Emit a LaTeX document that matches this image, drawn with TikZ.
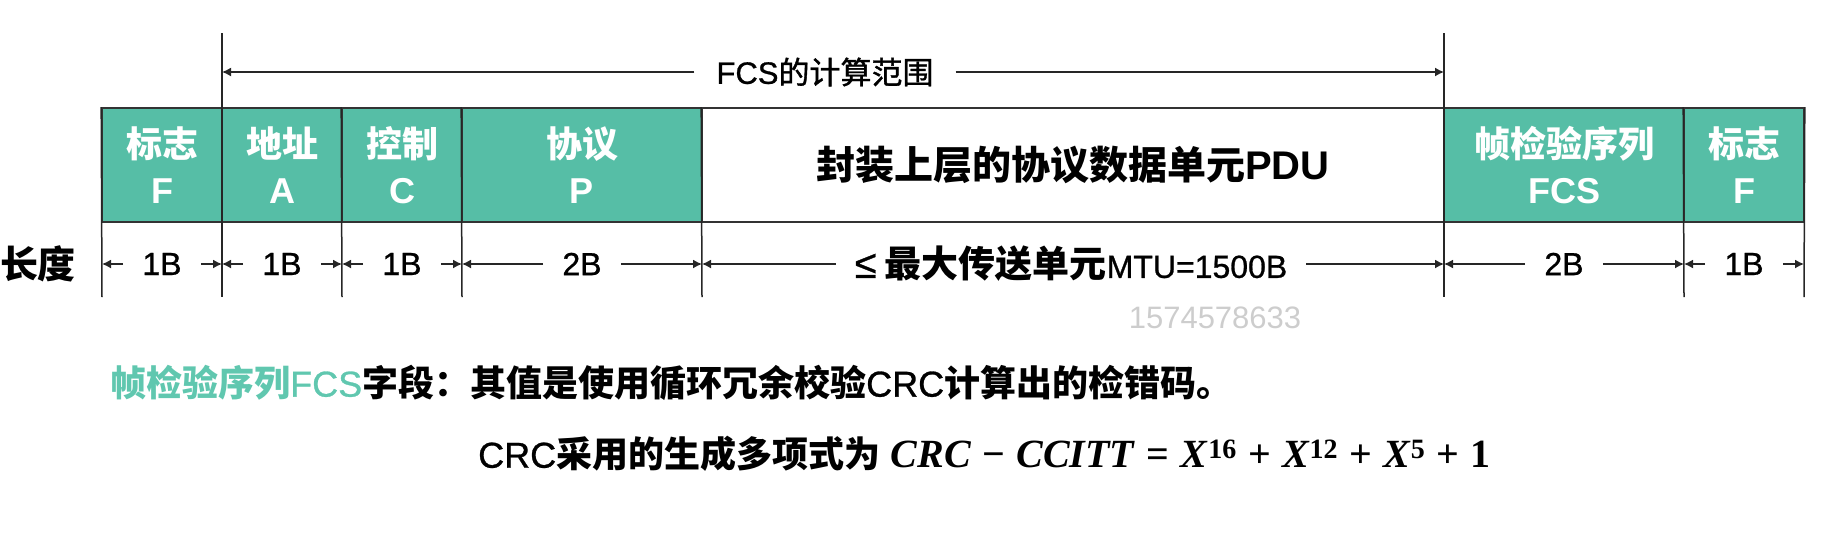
\documentclass[tikz,border=0pt]{standalone}
\usepackage{fontspec}
\setmainfont{Liberation Sans}
\newfontfamily\cjk{Noto Sans CJK SC}
\newfontfamily\cjkmed[FakeBold=1.2]{Noto Sans CJK SC}
\newfontfamily\latmed[FakeBold=0.8]{Liberation Sans}
\newfontfamily\mathser{Liberation Serif}
\usetikzlibrary{arrows.meta}
\definecolor{tealfill}{RGB}{86,190,166}
\definecolor{tealtext}{RGB}{96,199,175}
\definecolor{wmark}{RGB}{205,205,205}
\newcommand\fsz[1]{\fontsize{#1}{#1}\selectfont}
\newcommand\opsp[1]{\hspace{0.28em}#1\hspace{0.28em}}
\tikzset{
  field/.style={draw=black!80, line width=1.6pt, fill=tealfill, text=white,
    minimum height=114pt, inner sep=0pt, align=center,
    font=\fontsize{36}{46}\selectfont\bfseries},
  pdubox/.style={field, fill=white, text=black},
  vline/.style={line width=1.5pt, draw=black!85},
  dimarrow/.style={line width=1.5pt, draw=black!85, -{Latex[length=9pt,width=9pt]}},
  dimlabel/.style={inner sep=0pt, font=\fsz{32}\latmed},
}
\begin{document}
\begin{tikzpicture}[x=1pt,y=-1pt]
\useasboundingbox (0,0) rectangle (1848,544);
% fields
\node[field, minimum width=120pt] (f1) at (162,165) {{\cjk 标志}\\F};
\node[field, minimum width=120pt] (f2) at (282,165) {{\cjk 地址}\\A};
\node[field, minimum width=120pt] (f3) at (402,165) {{\cjk 控制}\\C};
\node[field, minimum width=240pt] (f4) at (582,165) {{\cjk 协议}\\P};
\node[pdubox, minimum width=742pt] (f5) at (1073,165) {{\cjk\fsz{39}\bfseries 封装上层的协议数据单元}{\fsz{40}\bfseries PDU}};
\node[field, minimum width=240pt] (f6) at (1564,165) {{\cjk 帧检验序列}\\FCS};
\node[field, minimum width=120pt] (f7) at (1744,165) {{\cjk 标志}\\F};
% bottom ends of vertical lines
\coordinate (L0) at (102,297);
\coordinate (L1) at (222,297);
\coordinate (L2) at (342,297);
\coordinate (L3) at (462,297);
\coordinate (L4) at (702,297);
\coordinate (L5) at (1444,297);
\coordinate (L6) at (1684,297);
\coordinate (L7) at (1804,297);
\coordinate (T1) at (222,33);
\coordinate (T5) at (1444,33);
\draw[vline] (f1.north west) -- (L0);
\draw[vline] (T1) -- (L1);
\draw[vline] (f3.north west) -- (L2);
\draw[vline] (f4.north west) -- (L3);
\draw[vline] (f5.north west) -- (L4);
\draw[vline] (T5) -- (L5);
\draw[vline] (f7.north west) -- (L6);
\draw[vline] (f7.north east) -- (L7);
% FCS range
\node[inner sep=0pt, font=\fsz{31}] (fcs) at (825,72) {{\latmed FCS}{\cjkmed 的计算范围}};
\coordinate (A1) at (222,72);
\coordinate (A5) at (1444,72);
\draw[dimarrow] ([xshift=-22pt]fcs.west) -- (A1);
\draw[dimarrow] ([xshift=22pt]fcs.east) -- (A5);
% length row
\node[inner sep=0pt, font=\fsz{38}\bfseries\cjk] (len) at (38,264) {长度};
\coordinate (D0) at (102,264);
\coordinate (D1) at (222,264);
\coordinate (D2) at (342,264);
\coordinate (D3) at (462,264);
\coordinate (D4) at (702,264);
\coordinate (D5) at (1444,264);
\coordinate (D6) at (1684,264);
\coordinate (D7) at (1804,264);
\node[dimlabel] (d1) at (162,264) {1B};
\node[dimlabel] (d2) at (282,264) {1B};
\node[dimlabel] (d3) at (402,264) {1B};
\node[dimlabel] (d4) at (582,264) {2B};
\node[dimlabel] (d5) at (1071,264) {{\fsz{40}≤}\hspace{0.25em}{\cjk\fsz{37}\bfseries 最大传送单元}MTU=1500B};
\node[dimlabel] (d6) at (1564,264) {2B};
\node[dimlabel] (d7) at (1744,264) {1B};
\foreach \i/\a/\b in {1/D0/D1,2/D1/D2,3/D2/D3,4/D3/D4,5/D4/D5,6/D5/D6,7/D6/D7}{
  \draw[dimarrow] ([xshift=-19pt]d\i.west) -- (\a);
  \draw[dimarrow] ([xshift=19pt]d\i.east) -- (\b);
}
% watermark
\node[inner sep=0pt, font=\fsz{31}, text=wmark] (wm) at (1215,318) {1574578633};
% explanation
\node[inner sep=0pt, anchor=west, font=\fsz{36}] (t1) at (110,383)
  {\textcolor{tealtext}{{\cjk\bfseries 帧检验序列}{\latmed FCS}}{\cjk\bfseries 字段：其值是使用循环冗余校验}{\latmed CRC}{\cjk\bfseries 计算出的检错码。}};
\node[inner sep=0pt, anchor=west, font=\fsz{36}] (t2) at (478,454)
  {{\latmed CRC}{\cjk\bfseries 采用的生成多项式为}\hspace{0.3em}{\mathser\bfseries\fsz{40}\textit{CRC}\opsp{−}\textit{CCITT}\opsp{=}\textit{X}\textsuperscript{16}\opsp{+}\textit{X}\textsuperscript{12}\opsp{+}\textit{X}\textsuperscript{5}\opsp{+}1}};
\end{tikzpicture}
\end{document}
